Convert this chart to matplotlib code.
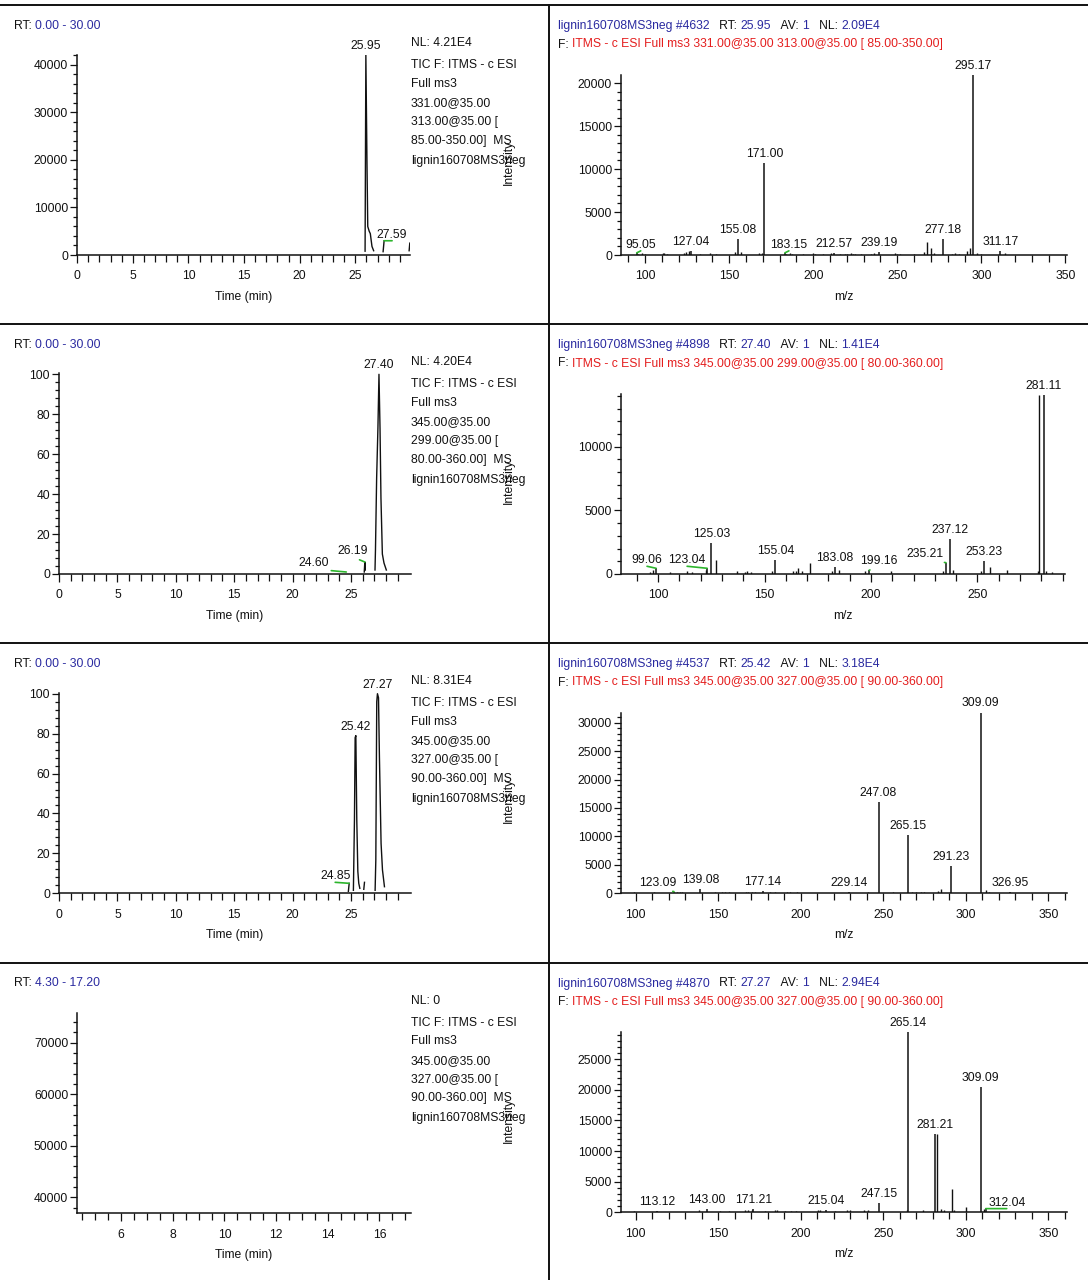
import numpy as np
import matplotlib
matplotlib.use("Agg")
import matplotlib.pyplot as plt
from matplotlib.ticker import MultipleLocator, FixedLocator
from matplotlib.lines import Line2D

nan = np.nan

# ---------------- chromatograms (time in min, intensity) ----------------
tic1_time = [25.88, 25.95, 26.05, 26.12, 26.25, 26.35, 26.50, 26.65, nan, 27.50, 27.59, nan, 29.84, 29.90]
tic1_int = [800, 42100, 19500, 6000, 5000, 4500, 1800, 900, nan, 700, 3000, nan, 900, 2500]
tic1_peak_rt = [25.95, 27.59]
tic1_peak_int = [42100, 3000]

tic2_time = [26.14, 26.19, 26.23, nan, 27.06, 27.10, 27.20, 27.31, 27.40, 27.49, 27.57, 27.69, 27.83, 28.03]
tic2_rel = [1, 6, 2, nan, 2, 12, 48, 73, 100, 73, 38, 10, 5.5, 2]
tic2_peak_rt = [24.60, 26.19, 27.40]
tic2_peak_rel = [1, 6, 100]

tic3_time = [24.78, 24.85, nan, 25.21, 25.30, 25.36, 25.42, 25.50, 25.59, 25.67, 25.76, nan,
             26.10, 26.16, nan, 27.07, 27.13, 27.21, 27.27, 27.36, 27.44, 27.58, 27.70, 27.87]
tic3_rel = [1, 5, nan, 1.5, 36.7, 78, 79, 36.7, 11, 5, 2.5, nan,
            2, 5.5, nan, 1.5, 16.7, 96, 100, 98, 68, 25, 11.7, 3.3]
tic3_peak_rt = [24.85, 25.42, 27.27]
tic3_peak_rel = [5, 79, 100]

tic4_time = []
tic4_int = []

# ---------------- MS3 spectra (m/z, intensity) ----------------
ms1_mz = [95.05, 127.04, 155.08, 171.00, 183.15, 212.57, 239.19, 277.18, 295.17, 311.17]
ms1_int = [250, 500, 1850, 10650, 250, 200, 300, 1850, 20900, 450]
ms1_minor_mz = [96.1, 98.1, 100.2, 110.4, 111.4, 113.3, 123.0, 124.5, 125.9, 132.9, 138.4, 142.1,
                153.3, 157.0, 168.0, 169.6, 183.9, 186.3, 187.6, 193.9, 199.6, 201.1, 206.1, 210.8,
                216.0, 218.6, 219.9, 222.5, 223.9, 225.1, 228.2, 234.3, 236.4, 248.6, 250.0, 251.7,
                259.8, 266.0, 267.4, 270.0, 271.7, 282.3, 284.3, 286.4, 291.5, 293.5, 297.6, 299.7, 313.9]
ms1_minor_int = [150, 200, 150, 200, 200, 150, 250, 300, 450, 150, 200, 150,
                 300, 350, 200, 200, 150, 200, 150, 150, 200, 150, 150, 200,
                 150, 150, 150, 200, 150, 150, 150, 150, 200, 200, 150, 150,
                 150, 300, 1480, 860, 200, 150, 200, 150, 500, 850, 200, 150, 250]

ms2_mz = [99.06, 123.04, 125.03, 155.04, 183.08, 199.16, 235.21, 237.12, 253.23, 281.11]
ms2_int = [450, 450, 2450, 1100, 550, 300, 890, 2720, 1020, 14100]
ms2_minor_mz = [96.0, 97.6, 105.7, 113.4, 115.8, 122.6, 127.4, 137.1, 140.8, 142.0, 143.6, 153.6,
                163.3, 164.6, 165.7, 167.4, 171.3, 181.5, 185.2, 197.1, 209.4, 233.6, 238.3,
                251.7, 255.7, 263.8, 278.3, 279.0, 282.3, 284.8]
ms2_minor_int = [150, 300, 150, 250, 150, 350, 1100, 250, 150, 200, 150, 200,
                 200, 250, 500, 200, 850, 200, 300, 200, 200, 200, 300,
                 200, 520, 300, 200, 14100, 200, 150]

ms3_mz = [123.09, 139.08, 177.14, 229.14, 247.08, 265.15, 291.23, 309.09, 326.95]
ms3_int = [300, 700, 450, 250, 16050, 10200, 4800, 31800, 250]
ms3_minor_mz = [99.0, 111.0, 125.0, 126.6, 128.1, 147.8, 152.0, 154.1, 156.2, 166.6, 168.2, 170.3,
                172.4, 181.1, 184.2, 191.5, 193.6, 197.8, 240.4, 256.0, 264.3, 267.5, 269.5, 272.6,
                274.7, 283.0, 284.7, 290.3, 312.1, 313.8]
ms3_minor_int = [200, 200, 300, 200, 200, 200, 200, 200, 200, 200, 200, 200,
                 200, 200, 300, 200, 200, 200, 250, 200, 300, 300, 300, 250,
                 250, 400, 700, 300, 500, 300]

ms4_mz = [113.12, 143.00, 171.21, 215.04, 247.15, 265.14, 281.21, 309.09, 312.04]
ms4_int = [250, 500, 500, 300, 1570, 29400, 12800, 20400, 600]
ms4_minor_mz = [98.6, 138.5, 151.0, 156.2, 166.2, 168.2, 170.3, 178.0, 184.2, 185.7, 190.5, 194.2,
                197.3, 210.2, 211.9, 220.6, 227.9, 230.0, 238.3, 240.4, 264.3, 274.3, 282.5,
                285.1, 286.8, 291.8, 293.0, 300.1, 311.1]
ms4_minor_int = [200, 300, 200, 200, 300, 300, 300, 250, 300, 300, 200, 200,
                 200, 300, 300, 250, 300, 300, 300, 300, 300, 300, 12800,
                 500, 400, 3760, 300, 870, 600]

# label shifts (pixels) for labels set off from their peak; a green leader is drawn
tic1_shift = {27.59: (8, 3)}
tic2_shift = {24.60: (-33, 6), 26.19: (-12, 8)}
tic3_shift = {24.85: (-14, 4)}
ms1_shift = {95.05: (4, 5), 183.15: (4, 5)}
ms2_shift = {99.06: (-9, 5), 123.04: (-20, 5), 199.16: (10, 6), 235.21: (-21, 6)}
ms3_shift = {123.09: (-16, 6)}
ms4_shift = {312.04: (21, 3)}

W, H, DPI = 1088, 1280, 100
FS = 8.7
BLACK = '#111111'
BLUE = '#2a2aa0'
RED = '#e41e1e'
GREEN = '#2cb52c'

plt.rcParams['font.family'] = ['Liberation Sans Narrow', 'Liberation Sans', 'DejaVu Sans']
plt.rcParams['axes.unicode_minus'] = False

fig = plt.figure(figsize=(W / DPI, H / DPI), dpi=DPI)
fig.patch.set_facecolor('white')
renderer = fig.canvas.get_renderer()


def fx(x):
    return x / W


def fy(y):
    return 1 - y / H


def axes_px(x0, y0, x1, y1):
    return fig.add_axes([fx(x0), fy(y1), (x1 - x0) / W, (y1 - y0) / H])


def text_width(s):
    if not s:
        return 0.0
    t = fig.text(0, 0, s + '|', fontsize=FS)
    w1 = t.get_window_extent(renderer).width
    t.set_text('|')
    w0 = t.get_window_extent(renderer).width
    t.remove()
    return w1 - w0


def colored_line(x, y, pieces):
    prefix = ''
    for txt, col in pieces:
        fig.text(fx(x + text_width(prefix)), fy(y), txt, color=col, fontsize=FS,
                 ha='left', va='center')
        prefix += txt


def style(ax, xmaj, xmin, ymaj, ymin):
    for s in ('top', 'right'):
        ax.spines[s].set_visible(False)
    for s in ('left', 'bottom'):
        ax.spines[s].set_linewidth(1.1)
        ax.spines[s].set_color(BLACK)
    ax.xaxis.set_major_locator(xmaj)
    ax.xaxis.set_minor_locator(xmin)
    ax.yaxis.set_major_locator(ymaj)
    ax.yaxis.set_minor_locator(ymin)
    ax.tick_params(axis='both', which='both', direction='out', width=0.9,
                   labelsize=FS, colors=BLACK)
    ax.tick_params(axis='y', which='major', length=5, pad=1.5)
    ax.tick_params(axis='y', which='minor', length=3)
    ax.tick_params(axis='x', which='major', length=6, pad=5)
    ax.tick_params(axis='x', which='minor', length=5)
    ax.patch.set_alpha(0)


def label_peaks(ax, xs, ys, shifts):
    for x, y in zip(xs, ys):
        dx, dy = shifts.get(x, (0, 6))
        kw = {}
        if dx != 0:
            kw['arrowprops'] = dict(arrowstyle='-', color=GREEN, lw=1.2,
                                    shrinkA=0, shrinkB=0, relpos=(0.5, 0.0))
        ax.annotate(f'{x:.2f}', xy=(x, y), xytext=(dx, dy), textcoords='offset pixels',
                    ha='center', va='baseline', fontsize=FS, color=BLACK,
                    annotation_clip=False, **kw)


# ---------------- panel frame lines ----------------
for yl in (4.5, 324, 643, 963):
    fig.add_artist(Line2D([0, 1], [fy(yl), fy(yl)], color=BLACK, lw=1.4))
fig.add_artist(Line2D([fx(548.5), fx(548.5)], [fy(4.5), 0], color=BLACK, lw=1.4))

row_off = [0, 319, 638, 957.5]

# ---------------- left column: chromatograms ----------------
left_specs = [
    dict(box=(77.2, 55, 409.8, 255), xlim=(0, 29.9), ylim=(0, 42100),
         t=tic1_time, v=tic1_int, pk=(tic1_peak_rt, tic1_peak_int, tic1_shift),
         yt=MultipleLocator(10000), ym=MultipleLocator(2000),
         xt=FixedLocator([0, 5, 10, 15, 20, 25]), xm=FixedLocator(np.arange(0, 30, 1)),
         rt='0.00 - 30.00', nl='4.21E4', p1='331.00', p2='313.00', rng='85.00-350.00'),
    dict(box=(59, 373.3, 410.5, 574), xlim=(0, 30.1), ylim=(0, 100.5),
         t=tic2_time, v=tic2_rel, pk=(tic2_peak_rt, tic2_peak_rel, tic2_shift),
         yt=MultipleLocator(20), ym=MultipleLocator(4),
         xt=FixedLocator([0, 5, 10, 15, 20, 25]), xm=FixedLocator(np.arange(0, 30, 1)),
         rt='0.00 - 30.00', nl='4.20E4', p1='345.00', p2='299.00', rng='80.00-360.00'),
    dict(box=(59, 692.7, 410.5, 893.3), xlim=(0, 30.1), ylim=(0, 100.5),
         t=tic3_time, v=tic3_rel, pk=(tic3_peak_rt, tic3_peak_rel, tic3_shift),
         yt=MultipleLocator(20), ym=MultipleLocator(4),
         xt=FixedLocator([0, 5, 10, 15, 20, 25]), xm=FixedLocator(np.arange(0, 30, 1)),
         rt='0.00 - 30.00', nl='8.31E4', p1='345.00', p2='327.00', rng='90.00-360.00'),
    dict(box=(77.2, 1013.3, 410.5, 1213.3), xlim=(4.3, 17.2), ylim=(36900, 75700),
         t=tic4_time, v=tic4_int, pk=([], [], {}),
         yt=MultipleLocator(10000), ym=MultipleLocator(2000),
         xt=MultipleLocator(2), xm=MultipleLocator(0.5),
         rt='4.30 - 17.20', nl='0', p1='345.00', p2='327.00', rng='90.00-360.00'),
]

for i, sp in enumerate(left_specs):
    off = row_off[i]
    ax = axes_px(*sp['box'])
    if len(sp['t']):
        ax.plot(sp['t'], sp['v'], color=BLACK, lw=1.0)
    ax.set_xlim(*sp['xlim'])
    ax.set_ylim(*sp['ylim'])
    style(ax, sp['xt'], sp['xm'], sp['yt'], sp['ym'])
    label_peaks(ax, *sp['pk'])
    x0, y0, x1, y1 = sp['box']
    fig.text(fx((x0 + x1) / 2), fy(y1 + 42), 'Time (min)', fontsize=FS,
             ha='center', va='center', color=BLACK)
    colored_line(14, 26 + off, [('RT: ', BLACK), (sp['rt'], BLUE)])
    block = [f"NL: {sp['nl']}", 'TIC F: ITMS - c ESI', 'Full ms3',
             f"{sp['p1']}@35.00", f"{sp['p2']}@35.00 [", f"{sp['rng']}]  MS",
             'lignin160708MS3neg']
    for txt, yy in zip(block, [43.3, 65, 84, 103.3, 122.3, 140.7, 160.7]):
        fig.text(fx(411), fy(yy + off), txt, fontsize=FS, ha='left', va='center', color=BLACK)
    fig.text(fx(509), fy(162.5 + off), 'Intensity', fontsize=FS, rotation=90,
             ha='center', va='center', color=BLACK)

# ---------------- right column: MS3 spectra ----------------
right_specs = [
    dict(box=(621, 75, 1066.5, 255), xlim=(85.7, 350.6), ylim=(0, 20950),
         mz=ms1_mz, it=ms1_int, mmz=ms1_minor_mz, mit=ms1_minor_int, sh=ms1_shift,
         yt=MultipleLocator(5000), scan='#4632', rt='25.95', nl='2.09E4',
         filt='ITMS - c ESI Full ms3 331.00@35.00 313.00@35.00 [ 85.00-350.00]'),
    dict(box=(621, 394, 1064.8, 574), xlim=(82.6, 291.0), ylim=(0, 14140),
         mz=ms2_mz, it=ms2_int, mmz=ms2_minor_mz, mit=ms2_minor_int, sh=ms2_shift,
         yt=MultipleLocator(5000), scan='#4898', rt='27.40', nl='1.41E4',
         filt='ITMS - c ESI Full ms3 345.00@35.00 299.00@35.00 [ 80.00-360.00]'),
    dict(box=(621, 713.3, 1066.5, 893.3), xlim=(91, 361), ylim=(0, 31650),
         mz=ms3_mz, it=ms3_int, mmz=ms3_minor_mz, mit=ms3_minor_int, sh=ms3_shift,
         yt=MultipleLocator(5000), scan='#4537', rt='25.42', nl='3.18E4',
         filt='ITMS - c ESI Full ms3 345.00@35.00 327.00@35.00 [ 90.00-360.00]'),
    dict(box=(621, 1031.7, 1066.5, 1212.3), xlim=(91, 361), ylim=(0, 29500),
         mz=ms4_mz, it=ms4_int, mmz=ms4_minor_mz, mit=ms4_minor_int, sh=ms4_shift,
         yt=MultipleLocator(5000), scan='#4870', rt='27.27', nl='2.94E4',
         filt='ITMS - c ESI Full ms3 345.00@35.00 327.00@35.00 [ 90.00-360.00]'),
]

for i, sp in enumerate(right_specs):
    off = row_off[i]
    ax = axes_px(*sp['box'])
    ax.vlines(sp['mmz'], 0, sp['mit'], color=BLACK, lw=1.0)
    ax.vlines(sp['mz'], 0, sp['it'], color=BLACK, lw=1.1)
    ax.set_xlim(*sp['xlim'])
    ax.set_ylim(*sp['ylim'])
    style(ax, MultipleLocator(50), MultipleLocator(10), sp['yt'], MultipleLocator(1000))
    label_peaks(ax, sp['mz'], sp['it'], sp['sh'])
    x0, y0, x1, y1 = sp['box']
    fig.text(fx((x0 + x1) / 2), fy(y1 + 42), 'm/z', fontsize=FS,
             ha='center', va='center', color=BLACK)
    colored_line(557.5, 26 + off, [(f"lignin160708MS3neg {sp['scan']}", BLUE),
                                   ('   RT: ', BLACK), (sp['rt'], BLUE),
                                   ('   AV: ', BLACK), ('1', BLUE),
                                   ('   NL: ', BLACK), (sp['nl'], BLUE)])
    colored_line(557.5, 44.5 + off, [('F: ', BLACK), (sp['filt'], RED)])

fig.savefig('out.png', dpi=DPI, facecolor='white')
